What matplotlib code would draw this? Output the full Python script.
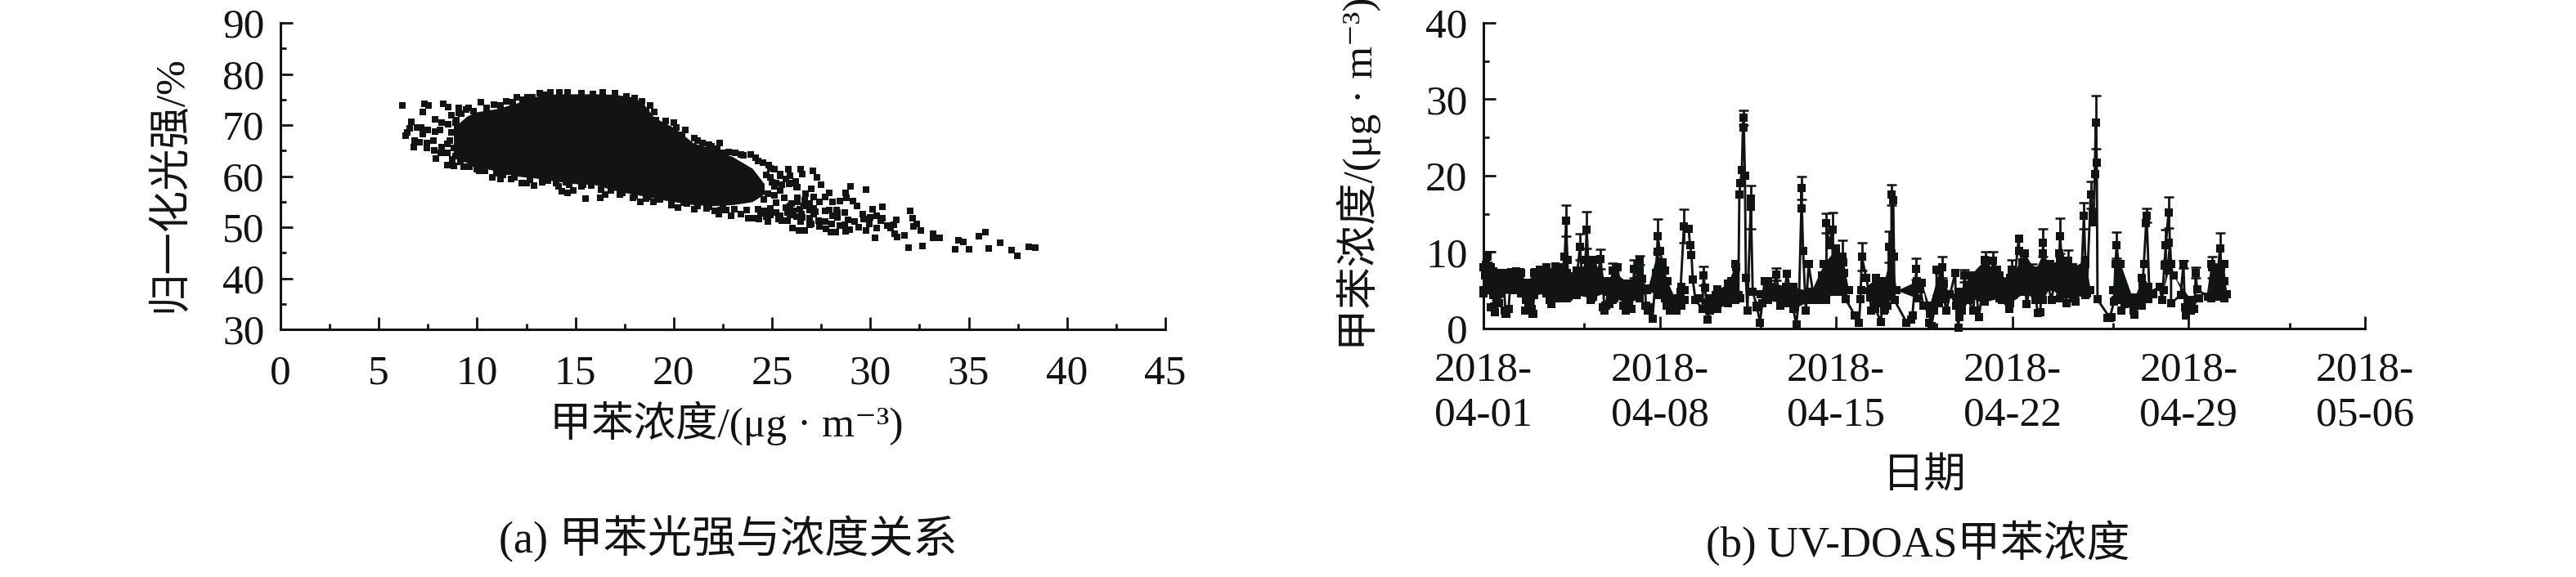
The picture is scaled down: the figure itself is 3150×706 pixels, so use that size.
import matplotlib
matplotlib.use('Agg')
import matplotlib.pyplot as plt
from matplotlib.ticker import FixedLocator, NullFormatter

plt.rcParams['font.family'] = ['Liberation Serif', 'Noto Sans CJK SC', 'DejaVu Sans']
plt.rcParams['axes.unicode_minus'] = False

W, H = 3150, 706
INK = '#111412'

# (a) the middle of the cloud can't be read point by point, so keep its outline
core_x = [8.8, 9.5, 10, 11, 12, 13, 14, 15, 16, 17, 18, 18.5, 19, 19.5, 20, 21, 22, 23, 24, 24.6]
core_top = [69.5, 71.8, 72.6, 73.2, 74.3, 75.6, 76.1, 76.1, 76.1, 76, 75.4, 74, 71.5, 70.5, 69.5, 66.5, 65.3, 63.8, 61.5, 58.5]
core_low = [63.5, 62.6, 61.8, 61, 60, 59.6, 59, 58.5, 58.3, 57.2, 56.4, 56.1, 55.7, 55.3, 55, 54.4, 54.2, 54.4, 55, 56.5]

# left edge of the cloud
left_x = [6.21, 7.33, 7.54, 8.29, 8.54, 7.25, 7.85, 8.68, 9.07, 9.58, 9.44, 9.05, 6.67, 8.21, 8.54, 8.89, 6.56, 6.46, 6.38, 6.95, 7.15, 7.5, 7.25, 7.85, 8.12, 6.81, 7.06, 6.78, 7.46, 7.46, 7.78, 7.83, 8.19, 8.17, 8.47, 7.9, 8.47, 8.75, 8.82, 9.16, 9.3, 9.72, 10.1, 10.0, 10.76, 11.18, 11.73, 10.97, 11.5, 12.28, 12.5, 12.9, 13.3, 13.6, 14.15, 14.3, 14.6, 14.9, 15.53, 14.5, 15.4, 10.2, 10.85, 11.47, 12.0, 12.56, 13.2, 13.74, 14.2]
left_y = [73.8, 74.1, 73.8, 74.2, 73.6, 72.5, 71.2, 72.0, 73.4, 73.4, 73.0, 72.4, 70.6, 70.4, 70.2, 70.5, 69.3, 68.6, 68.0, 69.6, 69.6, 69.1, 68.2, 68.8, 69.1, 67.0, 66.6, 65.7, 66.5, 65.5, 67.0, 65.0, 65.7, 64.5, 64.5, 63.4, 62.1, 63.3, 62.0, 62.8, 61.8, 62.5, 61.1, 61.4, 59.8, 59.5, 59.5, 60.6, 60.9, 58.7, 58.7, 58.1, 58.8, 59.2, 58.0, 57.0, 56.7, 57.2, 55.6, 58.8, 58.4, 74.5, 74.0, 74.7, 75.4, 75.5, 76.3, 76.4, 76.4]

# upper right edge and the loose points near it
upper_x = [19.07, 19.47, 20.14, 20.43, 21.03, 21.44, 21.8, 22.32, 22.2, 22.54, 23.14, 23.55, 23.9, 24.15, 24.52, 24.82, 25.11, 25.83, 26.44, 27.09, 27.27, 26.53, 25.93, 25.41, 27.5, 27.0, 26.23, 25.86, 25.11, 29.0, 29.76, 27.92, 27.13, 27.71, 28.75, 28.8, 29.1, 28.44, 28.06, 29.3, 30.13, 30.63]
upper_y = [71.0, 69.95, 69.6, 68.1, 67.4, 66.5, 66.1, 66.5, 65.4, 64.5, 64.6, 64.1, 64.2, 63.55, 62.6, 62.2, 61.4, 61.4, 61.4, 61.0, 59.7, 60.45, 60.1, 60.1, 58.3, 57.5, 57.8, 58.5, 58.0, 58.0, 57.3, 56.7, 55.9, 55.9, 56.7, 55.7, 55.2, 55.2, 54.9, 54.1, 53.6, 54.0]

# lower edge and scattered points of the tail
tail_x = [26.05, 26.38, 26.64, 26.9, 27.0, 27.36, 27.42, 27.68, 27.74, 28.04, 28.0, 28.23, 28.46, 28.75, 28.95, 28.87, 28.68, 29.2, 29.42, 29.65, 29.6, 29.76, 29.94, 29.97, 30.31, 30.31, 30.54, 30.61, 30.86, 31.03, 31.2, 31.32, 28.34, 28.08, 28.31, 28.69, 27.9, 27.12, 27.12, 26.9, 26.6, 26.53, 26.9, 26.47, 26.23, 25.78, 25.48, 25.34, 24.77, 24.71, 24.33, 24.07, 23.78, 23.43, 22.93, 22.29, 22.07, 22.37, 21.67, 21.06, 20.2, 19.87, 18.98, 18.32, 17.91, 17.28, 16.53, 16.27, 18.58, 20.66, 22.66, 24.6, 25.19, 25.78, 26.08, 26.3, 25.93, 26.67]
tail_y = [49.8, 49.4, 49.4, 50.5, 50.65, 51.3, 50.2, 51.2, 49.7, 50.6, 49.0, 49.0, 50.3, 49.15, 49.6, 51.4, 50.5, 51.15, 50.0, 51.55, 52.6, 49.4, 50.65, 52.0, 52.25, 49.8, 51.3, 51.8, 50.3, 49.8, 50.5, 51.4, 51.9, 52.25, 52.9, 52.85, 53.3, 53.7, 52.5, 53.3, 54.1, 51.9, 51.8, 51.2, 52.1, 51.3, 51.3, 51.55, 51.15, 52.1, 51.55, 51.7, 51.7, 52.6, 52.25, 52.6, 53.15, 53.3, 53.7, 53.6, 53.8, 54.4, 54.9, 54.9, 55.7, 56.4, 56.35, 55.7, 55.55, 54.6, 53.4, 53.15, 52.9, 52.9, 53.15, 55.0, 54.2, 55.3]

far_x = [34.3, 35.0, 34.46, 34.71, 35.5, 35.87, 36.02, 36.58, 37.2, 37.46, 38.04, 38.37, 32.63, 31.96, 31.74, 31.37, 31.22, 30.24, 32.57, 32.17, 32.35, 32.13, 32.02, 33.2, 33.17, 33.54]
far_y = [45.65, 45.65, 47.4, 47.1, 48.2, 49.0, 45.8, 47.0, 45.5, 44.4, 46.1, 45.95, 46.3, 46.0, 48.4, 48.05, 48.75, 47.9, 49.3, 50.1, 50.6, 51.8, 53.15, 48.7, 48.0, 47.9]

# rim of the dense part, so the outline doesn't look cut
rim_x = [9.2, 9.8, 10.5, 11.2, 11.8, 12.3, 12.8, 13.4, 14.6, 15.3, 15.9, 16.4, 17, 17.6, 18, 18.4, 18.8, 18.6, 19, 19.6, 20, 20.6, 21.2, 21.9, 22.8, 23.4, 24.3, 24.9, 25.4, 25.7, 26, 26.3, 8.7, 8.6, 8.8, 8.9, 8.5, 9.0, 8.95, 9.6, 10.4, 11.3, 11.9, 12.7, 13.3, 14, 14.7, 15.3, 15.8, 16.3, 16.8, 17.4, 18, 18.7, 19.3, 19.9, 20.5, 21.2, 21.8, 22.5, 23.1, 23.7, 24.3, 24.9]
rim_y = [72.2, 72.8, 73.3, 73.9, 74.4, 75, 75.5, 76, 76.4, 76.3, 76.1, 76.4, 76.3, 75.6, 75.3, 74.6, 73.8, 72.6, 72.5, 70.8, 70.5, 69, 67, 65.8, 64.7, 64.3, 62.9, 61.6, 60.4, 59.4, 58.6, 57.9, 68.5, 67, 65.5, 64, 66.3, 69.5, 71, 61.9, 61.1, 60.3, 59.8, 59.3, 59.4, 58.7, 58.3, 58, 58.1, 57.3, 57.2, 56.8, 56.1, 55.9, 55.5, 55.1, 54.8, 54.2, 54, 53.8, 53.5, 53.3, 53.6, 53.7]

loose_x = [25.2, 25.6, 26, 26.4, 25.4, 26.7, 26.3, 25.7, 26.5, 25.9, 25.4, 24.9, 24.4, 27.2, 27.4, 26.9, 27.7, 28.3, 25, 25.5, 26.2, 24.7, 24.9, 25.2, 24.6, 24.8, 25.1]
loose_y = [54.8, 55.7, 54.6, 53.6, 57.2, 56.6, 55.7, 53.8, 52.6, 52.4, 52.3, 52.4, 52.8, 53, 55, 54.7, 53.2, 53.4, 58.8, 58.4, 59, 60.2, 59.7, 58.6, 55.4, 56.5, 56.2]

# (b) days after 2018-04-01 and concentration
week1_days = [0.00, 0.05, 0.10, 0.15, 0.22, 0.30, 0.36, 0.41, 0.47, 0.55, 0.63, 0.72, 0.80, 0.87, 1.00, 1.05, 1.12, 1.20, 1.30, 1.38, 1.47, 1.55, 1.65, 1.72, 1.80, 1.95, 2.02, 2.05, 2.15, 2.25, 2.35, 2.50, 2.68, 2.75, 2.85, 2.95, 3.05, 3.15, 3.23, 3.28, 3.33, 3.38, 3.50, 3.70, 3.83, 3.90, 3.95, 4.05, 4.10, 4.17, 4.25, 4.35, 4.40, 4.55, 4.65, 4.75, 4.80, 4.87, 4.95, 5.05, 5.12, 5.20, 5.33, 5.40, 5.55, 5.62, 5.66, 5.88, 5.95, 5.98, 6.20, 6.30, 6.42, 6.45, 6.60, 6.71, 6.85, 6.92, 7.00, 7.10, 7.15]
week1_vals = [5.0, 7.0, 8.3, 9.4, 6.0, 8.0, 5.2, 2.9, 2.1, 4.5, 3.3, 5.6, 7.3, 1.9, 2.6, 5.2, 7.4, 5.0, 7.5, 5.2, 7.4, 5.4, 5.0, 2.4, 3.4, 1.9, 4.7, 7.4, 5.6, 7.7, 5.2, 8.0, 3.2, 5.5, 8.1, 4.2, 5.2, 8.0, 9.4, 14.1, 9.0, 4.2, 5.6, 6.5, 10.7, 7.5, 5.0, 9.0, 12.9, 8.0, 3.7, 6.0, 9.0, 7.2, 9.1, 5.8, 2.3, 3.0, 5.0, 3.7, 7.6, 5.4, 8.0, 6.0, 5.4, 4.8, 2.3, 2.6, 5.5, 7.8, 8.9, 6.5, 5.2, 3.0, 2.8, 1.25, 7.3, 12.1, 10.2, 8.7, 5.5]

week2_days = [7.18, 7.28, 7.39, 7.50, 7.66, 7.82, 7.96, 8.15, 8.20, 8.26, 8.31, 8.42, 8.69, 8.74, 8.80, 8.91, 8.96, 9.10, 9.23, 9.28, 9.45, 9.61, 9.83, 10.04, 10.12, 10.16, 10.20, 10.26, 10.31, 10.34, 10.38, 10.42, 10.48, 10.62, 10.62, 10.69, 10.85, 10.98, 11.07, 11.16, 11.34, 11.50, 11.63, 11.78, 11.94, 12.05, 12.26, 12.42, 12.53, 12.62, 12.62, 12.69, 12.80, 12.91, 13.13, 13.40, 13.45, 13.62, 13.62, 13.72, 13.85, 13.88, 13.99, 14.10, 14.26, 14.32, 14.37]
week2_vals = [5.1, 3.0, 2.4, 3.5, 2.4, 4.8, 13.4, 13.0, 10.9, 9.6, 6.4, 3.7, 2.6, 6.9, 5.3, 1.2, 2.3, 3.6, 4.4, 3.0, 3.8, 4.1, 6.2, 8.0, 4.4, 17.5, 19.0, 20.8, 27.6, 26.3, 20.0, 6.6, 2.4, 17.0, 15.9, 4.8, 3.0, 0.8, 3.3, 6.2, 4.4, 4.8, 7.1, 3.0, 4.4, 7.2, 3.3, 0.5, 4.1, 15.7, 18.4, 10.2, 2.3, 8.4, 3.7, 4.1, 7.0, 3.7, 13.8, 10.9, 12.9, 4.8, 9.8, 6.5, 9.4, 7.3, 3.9]

week3_days = [14.75, 14.91, 14.97, 15.02, 15.20, 15.35, 15.40, 15.56, 15.78, 15.89, 16.05, 16.10, 16.20, 16.20, 16.27, 16.30, 16.32, 16.80, 17.03, 17.19, 17.19, 17.35, 17.46, 17.73, 17.78, 17.90, 17.99, 17.99, 18.20, 18.27, 18.30, 18.37, 18.73, 18.75, 18.86, 18.92, 19.00, 19.10, 19.24, 19.46, 19.50, 19.67, 19.78, 19.95, 20.17, 20.22, 20.38, 20.60, 20.87, 20.98, 21.03, 21.25, 21.27, 21.41, 21.57, 21.79, 21.90, 22.00]
week3_vals = [1.7, 0.8, 3.9, 9.4, 6.6, 4.1, 2.3, 2.6, 0.9, 5.1, 3.0, 10.7, 9.8, 17.5, 16.8, 9.4, 3.7, 0.8, 1.7, 7.8, 5.9, 5.1, 3.0, 1.9, 0.3, 2.4, 3.9, 7.7, 8.0, 5.9, 3.9, 2.3, 7.3, 3.0, 0.1, 4.4, 2.3, 6.9, 3.7, 2.4, 6.9, 1.5, 4.1, 8.9, 5.3, 8.9, 7.7, 3.7, 2.6, 7.7, 4.4, 11.8, 10.2, 8.7, 3.2, 7.3, 5.0, 2.0]

week4_days = [22.11, 22.22, 22.27, 22.43, 22.55, 22.87, 22.89, 23.03, 23.14, 23.22, 23.46, 23.52, 23.73, 23.84, 23.90, 23.95, 24.11, 24.18, 24.22, 24.27, 24.31, 24.35, 24.38, 24.87, 25.03, 25.09, 25.14, 25.30, 25.34, 25.46, 25.79, 25.84, 26.00, 26.17, 26.22, 26.31, 26.33, 26.44, 26.84, 26.95, 27.03, 27.09, 27.20, 27.30, 27.30, 27.68, 27.79, 27.85, 27.90, 28.05, 28.23, 28.28, 28.33, 28.76, 28.92, 29.03, 29.08, 29.24, 29.30, 29.41, 29.48]
week4_vals = [2.1, 11.2, 8.4, 5.5, 3.7, 9.8, 12.1, 6.2, 3.3, 8.9, 6.9, 3.5, 6.2, 14.8, 8.5, 4.6, 17.5, 15.0, 13.9, 20.2, 27.0, 21.7, 3.8, 1.4, 3.5, 8.4, 10.9, 5.9, 2.3, 3.2, 4.1, 1.8, 3.0, 5.7, 8.5, 13.8, 14.8, 4.6, 5.5, 3.7, 8.2, 10.9, 15.2, 8.4, 3.3, 4.4, 8.4, 2.8, 1.7, 3.6, 2.6, 7.3, 5.1, 4.2, 8.0, 6.2, 4.2, 10.5, 8.0, 6.2, 4.5]

# low clusters that hang under the band
dip_days = [0.41, 0.52, 0.47, 0.30, 0.90, 0.84, 1.01, 1.66, 1.82, 1.98, 1.93, 2.68, 2.63, 2.95, 3.39, 4.25, 4.36, 4.79, 4.85, 4.74, 5.12, 5.01, 5.66, 5.55, 5.88, 6.42, 6.63, 6.53, 6.71, 7.39, 7.28, 7.66, 7.82, 7.99, 8.42, 8.69, 8.91, 8.96, 9.23, 9.61, 10.1, 10.48, 10.85, 10.98, 11.07, 11.78, 11.94, 12.26, 12.37, 12.42, 12.53, 12.8, 13.18, 13.62, 14.37, 14.75, 14.91, 14.97, 15.4, 15.56, 15.78, 15.94, 16.32, 16.8, 16.97, 17.03, 17.46, 17.73, 17.78, 17.9, 18.37, 18.86, 18.75, 18.97, 19.46, 19.67, 20.87, 21.57, 22.0, 23.14, 23.52, 24.93, 24.76, 25.34, 25.84, 26.06, 26.95, 27.85, 27.9, 28.23, 28.06]
dip_vals = [2.8, 3.3, 2.1, 2.8, 1.9, 2.4, 2.6, 2.4, 3.0, 1.9, 2.6, 3.2, 3.7, 4.1, 4.2, 3.7, 4.2, 2.3, 3.0, 2.8, 3.7, 3.2, 2.3, 3.0, 2.6, 3.0, 2.8, 2.4, 1.25, 2.6, 3.0, 2.4, 3.0, 3.7, 3.7, 2.6, 1.2, 2.3, 3.0, 3.9, 4.1, 2.4, 2.8, 0.8, 3.3, 3.0, 3.7, 3.3, 2.8, 0.5, 4.1, 2.3, 3.7, 3.7, 3.9, 1.7, 0.8, 3.9, 2.3, 2.6, 0.9, 2.6, 3.7, 0.8, 1.2, 1.7, 3.0, 1.9, 0.3, 2.4, 2.3, 0.1, 3.0, 2.3, 2.4, 1.5, 2.6, 3.2, 2.0, 3.3, 3.5, 1.5, 1.4, 2.3, 1.8, 3.0, 3.7, 2.8, 1.7, 2.6, 3.7]

# solid black part of the band, low == top where only a thin line shows
band_days = [0.0, 0.4, 0.6, 0.7, 1.5, 1.7, 2.0, 2.5, 3.0, 3.3, 3.7, 4.3, 4.9, 5.2, 5.7, 6.2, 6.5, 6.9, 7.2, 7.3, 7.6, 7.85, 8.0, 8.5, 9.0, 9.3, 9.7, 10.0, 10.2, 11.0, 11.3, 12.0, 12.3, 13.0, 13.5, 14.0, 14.3, 14.5, 15.0, 15.6, 15.9, 16.2, 16.4, 17.2, 17.4, 17.7, 18.1, 18.5, 18.9, 19.3, 19.9, 20.5, 20.9, 21.5, 21.9, 22.2, 22.5, 22.9, 23.4, 23.9, 24.1, 25.0, 25.1, 25.3, 25.8, 26.15, 26.4, 26.6, 27.0, 27.2, 27.4, 28.1, 28.4, 28.8, 28.9, 29.4, 29.5]
band_top = [8.0, 7.5, 7.0, 7.3, 7.3, 6.0, 7.3, 8.0, 7.8, 7.3, 7.6, 9.0, 6.2, 7.6, 5.9, 7.6, 5.0, 10.0, 7.6, 6.2, 4.0, 5.5, 5.0, 4.0, 4.0, 5.1, 5.9, 8.4, 4.0, 4.5, 6.2, 5.5, 5.5, 4.8, 8.4, 10.5, 8.7, 5.0, 5.0, 6.6, 6.2, 9.8, 5.0, 6.2, 6.0, 3.0, 7.6, 4.5, 4.8, 6.9, 9.0, 6.9, 6.6, 9.8, 7.6, 9.8, 8.4, 9.1, 8.0, 9.0, 5.0, 5.0, 8.4, 8.4, 3.7, 6.6, 5.5, 4.5, 5.0, 11.2, 7.0, 3.7, 4.0, 4.2, 8.4, 8.4, 4.5]
band_low = [4.6, 4.4, 4.5, 4.6, 4.6, 3.7, 4.4, 4.6, 4.0, 4.0, 4.4, 4.0, 4.8, 4.0, 3.3, 4.0, 5.0, 4.4, 4.0, 3.3, 2.3, 3.0, 5.0, 4.0, 2.3, 2.6, 3.3, 3.7, 4.0, 4.5, 3.7, 3.3, 2.6, 3.7, 3.7, 4.8, 4.8, 5.0, 5.0, 3.3, 2.3, 4.2, 5.0, 4.0, 6.0, 0.8, 3.3, 4.5, 1.5, 4.0, 3.5, 4.0, 3.3, 4.8, 3.7, 3.7, 5.5, 4.0, 4.0, 4.4, 5.0, 5.0, 3.7, 3.7, 2.3, 3.0, 3.9, 4.5, 5.0, 7.6, 7.0, 2.3, 4.0, 4.2, 4.0, 4.0, 4.5]

# error bars that stand clear of the band
cap_days = [0.15, 3.28, 3.83, 4.10, 4.65, 5.12, 6.20, 5.98, 6.92, 7.96, 8.74, 10.31, 10.62, 11.63, 12.62, 13.62, 13.85, 14.26, 15.02, 16.10, 16.20, 17.19, 18.20, 19.10, 19.95, 20.22, 20.98, 21.79, 22.22, 22.89, 23.22, 23.84, 24.11, 24.31, 25.14, 26.33, 27.09, 27.20, 27.79, 28.28, 28.92, 29.24]
cap_vals = [9.4, 14.1, 10.7, 12.9, 9.1, 7.6, 8.9, 7.8, 12.1, 13.4, 6.9, 27.6, 15.9, 7.1, 18.4, 13.8, 12.9, 9.4, 9.4, 10.7, 17.5, 7.8, 8.0, 6.9, 8.9, 8.9, 7.7, 7.3, 11.2, 12.1, 8.9, 14.8, 17.5, 27.0, 10.9, 14.8, 10.9, 15.2, 8.4, 7.3, 8.0, 10.5]
cap_errs = [0.7, 2.0, 1.7, 2.4, 1.3, 1.0, 0.6, 1.2, 2.2, 2.2, 1.2, 1.0, 2.8, 0.8, 1.5, 1.3, 2.3, 2.1, 1.8, 2.0, 1.3, 1.4, 1.4, 0.8, 1.1, 1.1, 1.3, 1.2, 1.8, 2.3, 1.4, 1.7, 1.8, 3.5, 1.7, 0.9, 2.0, 2.0, 0.5, 0.7, 1.4, 2.0]

date_ticks = [0, 7, 14, 21, 28, 35]
date_minor = [4, 11, 18, 25, 32]
date_labels = ['2018-\n04-01', '2018-\n04-08', '2018-\n04-15', '2018-\n04-22', '2018-\n04-29', '2018-\n05-06']


def place(x0, x1, y_top, y_bot):
    return fig.add_axes([x0 / W, 1 - y_bot / H, (x1 - x0) / W, (y_bot - y_top) / H])


def style(ax):
    ax.spines['top'].set_visible(False)
    ax.spines['right'].set_visible(False)
    ax.spines['left'].set_linewidth(2.2)
    ax.spines['bottom'].set_linewidth(2.2)
    ax.spines['left'].set_color(INK)
    ax.spines['bottom'].set_color(INK)
    ax.tick_params(which='major', direction='in', length=10.5, width=2.0, color=INK, labelcolor=INK, labelsize=37)
    ax.tick_params(which='minor', direction='in', length=5, width=2.0, color=INK)
    ax.tick_params(axis='y', which='major', pad=14)
    ax.xaxis.set_minor_formatter(NullFormatter())
    ax.yaxis.set_minor_formatter(NullFormatter())


def label(x, y, s, size, **kw):
    fig.text(x / W, 1 - y / H, s, fontsize=size, color=INK, ha='center', va='center', **kw)


fig = plt.figure(figsize=(W / 100, H / 100), dpi=100)

ax1 = place(343, 1425, 28, 403)
style(ax1)
ax1.fill_between(core_x, core_low, core_top, color=INK, lw=0)
for xs, ys in [(left_x, left_y), (upper_x, upper_y), (tail_x, tail_y), (far_x, far_y), (rim_x, rim_y), (loose_x, loose_y)]:
    ax1.plot(xs, ys, 's', ms=5.3, mew=0, color=INK)
ax1.set_xlim(0, 45)
ax1.set_ylim(30, 90)
ax1.xaxis.set_major_locator(FixedLocator(range(0, 46, 5)))
ax1.xaxis.set_minor_locator(FixedLocator([v + 2.5 for v in range(0, 45, 5)]))
ax1.yaxis.set_major_locator(FixedLocator(range(30, 91, 10)))
ax1.yaxis.set_minor_locator(FixedLocator(range(35, 90, 10)))
ax1.tick_params(axis='x', which='major', pad=22)

ax2 = place(1814, 2892, 28, 402)
style(ax2)
days = week1_days + week2_days + week3_days + week4_days
vals = week1_vals + week2_vals + week3_vals + week4_vals
ax2.fill_between(band_days, band_low, band_top, color=INK, lw=0)
ax2.plot(band_days, band_top, 's', ms=6.6, mew=0, color=INK, clip_on=False)
ax2.plot(band_days, band_low, 's', ms=6.6, mew=0, color=INK, clip_on=False)
ax2.plot(dip_days, dip_vals, 's', ms=6.6, mew=0, color=INK, clip_on=False)
ax2.plot(days, vals, '-s', lw=2.1, ms=6.6, mew=0, color=INK, clip_on=False)
ax2.errorbar(cap_days, cap_vals, yerr=cap_errs, fmt='none', ecolor=INK, elinewidth=2.0,
             capsize=4.0, capthick=1.8, clip_on=False)
ax2.set_xlim(0, 35)
ax2.set_ylim(0, 40)
ax2.xaxis.set_major_locator(FixedLocator(date_ticks))
ax2.xaxis.set_minor_locator(FixedLocator(date_minor))
ax2.set_xticklabels(date_labels, linespacing=1.25)
ax2.yaxis.set_major_locator(FixedLocator(range(0, 41, 10)))
ax2.yaxis.set_minor_locator(FixedLocator(range(5, 40, 10)))
ax2.tick_params(axis='x', which='major', pad=20)

label(208, 225, '归一化光强/%', 37, rotation=90)
label(888, 518, '甲苯浓度/(μg · m⁻³)', 37)
label(890, 660, '(a) 甲苯光强与浓度关系', 39)

label(1662, 213, '甲苯浓度/(μg · m⁻³)', 37, rotation=90)
label(2353, 583, '日期', 37)
label(2345, 664, '(b) UV-DOAS甲苯浓度', 38)

fig.savefig('out.png', dpi=100)
